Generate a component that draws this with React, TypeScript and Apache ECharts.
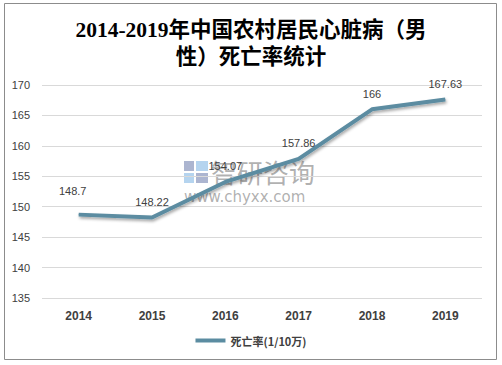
import React, { useEffect, useRef } from "react";
import * as echarts from "echarts";

const years = ["2014", "2015", "2016", "2017", "2018", "2019"];
const deathRate = [148.7, 148.22, 154.07, 157.86, 166, 167.63];
const seriesName = "死亡率(1/10万)";
const titleText = "2014-2019年中国农村居民心脏病（男\n性）死亡率统计";

export default function App() {
  const ref = useRef<HTMLDivElement>(null);
  useEffect(() => {
    if (!ref.current) return;
    const chart = echarts.init(ref.current, undefined, { renderer: "svg" });
    const data = deathRate.map((v, i) =>
      i === 0 ? { value: v, label: { distance: 18, offset: [-6, 0] } } : { value: v }
    );
    chart.setOption({
      animation: false,
      backgroundColor: "#fff",
      title: {
        text: titleText,
        left: "center",
        top: 11,
        textStyle: {
          fontFamily: "'Liberation Serif', 'DejaVu Serif', 'Noto Sans CJK SC', serif",
          fontSize: 21.5,
          fontWeight: "bold",
          color: "#000",
          lineHeight: 27,
        },
      },
      graphic: [
        {
          type: "rect",
          shape: { x: 4.5, y: 3.5, width: 492, height: 356 },
          style: { fill: "none", stroke: "#8c8c8c", lineWidth: 1 },
          silent: true,
        },
        {
          type: "group",
          silent: true,
          z: 100,
          children: [
            { type: "rect", shape: { x: 184, y: 161, width: 10, height: 10 }, style: { fill: "rgba(70,90,150,0.45)" } },
            { type: "rect", shape: { x: 196, y: 161, width: 12, height: 10 }, style: { fill: "rgba(90,160,220,0.45)" } },
            { type: "rect", shape: { x: 184, y: 173, width: 10, height: 10 }, style: { fill: "rgba(90,160,220,0.45)" } },
            { type: "rect", shape: { x: 196, y: 173, width: 12, height: 10 }, style: { fill: "rgba(70,90,150,0.45)" } },
            {
              type: "text",
              x: 211,
              y: 171,
              style: {
                text: "智研咨询",
                fontSize: 26,
                lineHeight: 24,
                fontFamily: "'Noto Sans CJK SC', sans-serif",
                fill: "rgba(110,110,110,0.55)",
                verticalAlign: "middle",
              },
            },
            {
              type: "text",
              x: 184,
              y: 197,
              style: {
                text: "www.chyxx.com",
                fontSize: 15,
                lineHeight: 14,
                fontFamily: "'DejaVu Sans', sans-serif",
                fill: "rgba(110,110,110,0.55)",
                verticalAlign: "middle",
              },
            },
          ],
        },
      ],
      legend: {
        bottom: 14,
        left: "center",
        itemWidth: 30,
        itemHeight: 4,
        icon: "rect",
        itemStyle: { color: "#5b8ca1", opacity: 1 },
        textStyle: { fontSize: 11, fontWeight: "bold", color: "#404040", fontFamily: "'Noto Sans CJK SC', sans-serif" },
        data: [seriesName],
      },
      grid: { left: 42, right: 20, top: 85, bottom: 67, containLabel: false },
      xAxis: {
        type: "category",
        data: years,
        boundaryGap: true,
        axisLine: { show: false },
        axisTick: { show: false },
        axisLabel: {
          fontSize: 12,
          fontWeight: "bold",
          color: "#404040",
          margin: 12,
          fontFamily: "'Liberation Sans', Arial, sans-serif",
        },
      },
      yAxis: {
        type: "value",
        min: 135,
        max: 170,
        interval: 5,
        axisLine: { show: false },
        axisTick: { show: false },
        axisLabel: {
          fontSize: 11,
          color: "#404040",
          margin: 12,
          fontFamily: "'Liberation Sans', Arial, sans-serif",
        },
        splitLine: { lineStyle: { color: "#d9d9d9" } },
      },
      series: [
        {
          name: seriesName,
          type: "line",
          data,
          symbol: "circle",
          symbolSize: 0.5,
          showSymbol: true,
          color: "#5b8ca1",
          itemStyle: { color: "#5b8ca1" },
          lineStyle: {
            width: 4,
            color: "#5b8ca1",
            shadowColor: "rgba(0,0,0,0.35)",
            shadowBlur: 3,
            shadowOffsetX: 1,
            shadowOffsetY: 2,
          },
          label: {
            show: true,
            position: "top",
            distance: 10,
            fontSize: 11,
            color: "#404040",
            fontFamily: "'Liberation Sans', Arial, sans-serif",
          },
        },
      ],
    });
    return () => chart.dispose();
  }, []);
  return (
    <div
      ref={ref}
      style={{ position: "fixed", left: 0, top: 0, width: 502, height: 365 }}
    />
  );
}
